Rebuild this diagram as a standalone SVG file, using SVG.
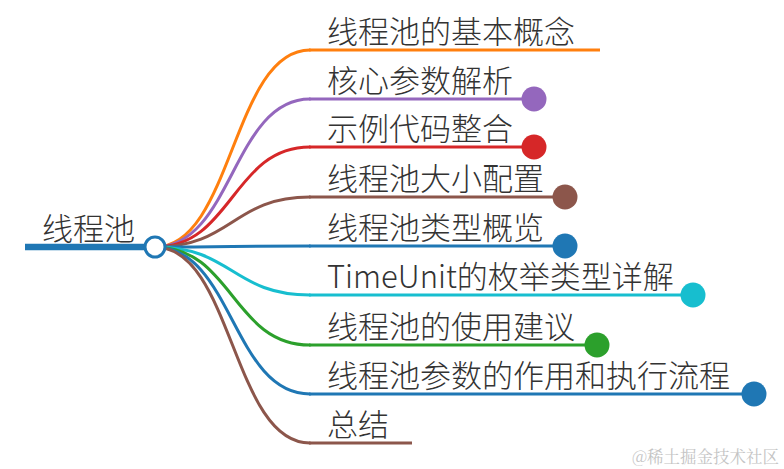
<svg xmlns="http://www.w3.org/2000/svg" width="784" height="469" viewBox="0 0 784 469">
<style>
  .t { font-family: "Noto Sans CJK SC", "Noto Sans", sans-serif; font-size: 31px; font-weight: 300; fill: #333; }
  .link { fill: none; stroke-width: 3; stroke-linecap: round; }
  .ul { fill: none; stroke-width: 3; }
  .wm { font-family: "Noto Serif CJK SC", "Noto Sans CJK SC", serif; font-size: 16.5px; fill: #c4c4c4; }
</style>
<rect width="784" height="469" fill="#fff"/>
<g id="connectors">
  <path class="link" stroke="#ff7f0e" d="M155,247 C232.5,247 232.5,50 310,50"/>
  <path class="link" stroke="#9467bd" d="M155,247 C232.5,247 232.5,99 310,99"/>
  <path class="link" stroke="#d62728" d="M155,247 C232.5,247 232.5,147 310,147"/>
  <path class="link" stroke="#8c564b" d="M155,247 C232.5,247 232.5,197 310,197"/>
  <path class="link" stroke="#1f77b4" d="M155,247 C232.5,247 232.5,246 310,246"/>
  <path class="link" stroke="#17becf" d="M155,247 C232.5,247 232.5,295 310,295"/>
  <path class="link" stroke="#2ca02c" d="M155,247 C232.5,247 232.5,345 310,345"/>
  <path class="link" stroke="#1f77b4" d="M155,247 C232.5,247 232.5,394 310,394"/>
  <path class="link" stroke="#8c564b" d="M155,247 C232.5,247 232.5,443 310,443"/>
</g>
<g id="root">
  <line x1="25" y1="247" x2="155" y2="247" stroke="#1f77b4" stroke-width="6.5"/>
  <text class="t" x="42" y="240">线程池</text>
  <circle cx="155" cy="247" r="10" fill="#fff" stroke="#1f77b4" stroke-width="3"/>
</g>
<g id="n1">
  <line class="ul" x1="309" y1="50" x2="600" y2="50" stroke="#ff7f0e"/>
  <text class="t" x="327" y="43">线程池的基本概念</text>
</g>
<g id="n2">
  <line class="ul" x1="309" y1="99" x2="534" y2="99" stroke="#9467bd"/>
  <text class="t" x="327" y="92">核心参数解析</text>
  <circle cx="534" cy="99" r="12.5" fill="#9467bd"/>
</g>
<g id="n3">
  <line class="ul" x1="309" y1="147" x2="534" y2="147" stroke="#d62728"/>
  <text class="t" x="327" y="140">示例代码整合</text>
  <circle cx="534" cy="147" r="12.5" fill="#d62728"/>
</g>
<g id="n4">
  <line class="ul" x1="309" y1="197" x2="565" y2="197" stroke="#8c564b"/>
  <text class="t" x="327" y="190">线程池大小配置</text>
  <circle cx="565" cy="197" r="12.5" fill="#8c564b"/>
</g>
<g id="n5">
  <line class="ul" x1="309" y1="246" x2="565" y2="246" stroke="#1f77b4"/>
  <text class="t" x="327" y="239">线程池类型概览</text>
  <circle cx="565" cy="246" r="12.5" fill="#1f77b4"/>
</g>
<g id="n6">
  <line class="ul" x1="309" y1="295" x2="693" y2="295" stroke="#17becf"/>
  <text class="t" x="327" y="288">TimeUnit的枚举类型详解</text>
  <circle cx="693" cy="295" r="12.5" fill="#17becf"/>
</g>
<g id="n7">
  <line class="ul" x1="309" y1="345" x2="597" y2="345" stroke="#2ca02c"/>
  <text class="t" x="327" y="338">线程池的使用建议</text>
  <circle cx="597" cy="345" r="12.5" fill="#2ca02c"/>
</g>
<g id="n8">
  <line class="ul" x1="309" y1="394" x2="754" y2="394" stroke="#1f77b4"/>
  <text class="t" x="327" y="387">线程池参数的作用和执行流程</text>
  <circle cx="754" cy="394" r="12.5" fill="#1f77b4"/>
</g>
<g id="n9">
  <line class="ul" x1="309" y1="443" x2="412" y2="443" stroke="#8c564b"/>
  <text class="t" x="327" y="436">总结</text>
</g>
<text class="wm" x="632" y="463">@稀土掘金技术社区</text>
</svg>
